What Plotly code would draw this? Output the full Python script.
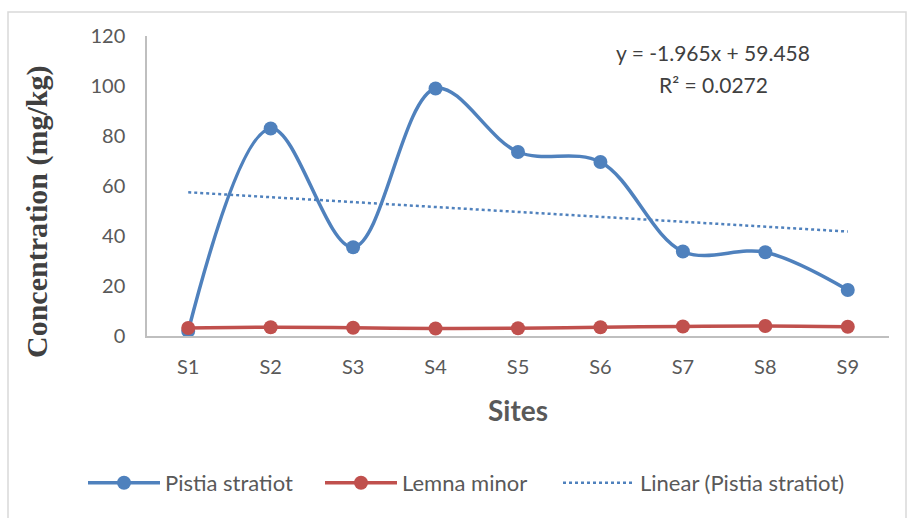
import plotly.graph_objects as go

sites = ["S1", "S2", "S3", "S4", "S5", "S6", "S7", "S8", "S9"]
pistia = [2.0, 83.0, 35.5, 99.0, 73.6, 69.6, 33.8, 33.5, 18.4]
lemna = [3.2, 3.5, 3.3, 3.0, 3.1, 3.5, 3.8, 4.0, 3.7]
trend_slope = -1.965
trend_intercept = 59.458
y_ticks = [0, 20, 40, 60, 80, 100, 120]

trend = [trend_slope * (i + 1) + trend_intercept for i in range(len(sites))]

BLUE = "#4F81BD"
RED = "#C0504D"
TXT = "#595959"
FONT = "Lato, Liberation Sans, sans-serif"

L, R, T, B = 147, 18, 36, 182
W, H = 907, 518
pw, ph = W - L - R, H - T - B
leg_y = -(483 - (T + ph)) / ph

fig = go.Figure()
fig.add_trace(go.Scatter(x=sites, y=pistia, name="Pistia stratiot", mode="lines+markers",
                         line=dict(color=BLUE, width=3.5, shape="spline", smoothing=1.0),
                         marker=dict(color=BLUE, size=14), legend="legend"))
fig.add_trace(go.Scatter(x=sites, y=lemna, name="Lemna minor", mode="lines+markers",
                         line=dict(color=RED, width=3.5, shape="spline"),
                         marker=dict(color=RED, size=14), legend="legend"))
fig.add_trace(go.Scatter(x=sites, y=trend, name="Linear (Pistia stratiot)", mode="lines",
                         line=dict(color=BLUE, width=2.5, dash="dot"), legend="legend2"))

fig.update_layout(
    width=W, height=H,
    margin=dict(l=L, r=R, t=T, b=B),
    paper_bgcolor="white", plot_bgcolor="white",
    font=dict(family=FONT, size=20, color=TXT),
    showlegend=True,
    legend=dict(orientation="h", x=(83 - L) / pw, xanchor="left",
                y=leg_y, yanchor="middle",
                font=dict(size=22, color=TXT), itemwidth=72,
                entrywidth=150, entrywidthmode="pixels",
                bgcolor="rgba(0,0,0,0)"),
    legend2=dict(orientation="h", x=(558 - L) / pw, xanchor="left",
                 y=leg_y, yanchor="middle",
                 font=dict(size=22, color=TXT), itemwidth=72,
                 bgcolor="rgba(0,0,0,0)"),
    xaxis=dict(type="category", range=[-0.5, 8.5], showline=True, linecolor="#BFBFBF",
               linewidth=1.5, showgrid=False, zeroline=False, ticks="",
               ticklabelstandoff=12, tickfont=dict(size=20, color=TXT)),
    yaxis=dict(range=[0, 120], tickvals=y_ticks, showline=True, linecolor="#BFBFBF",
               linewidth=1.5, showgrid=False, zeroline=False, ticks="",
               ticklabelstandoff=16, tickfont=dict(size=20, color=TXT)),
)

# axis titles
fig.add_annotation(text="<b>Concentration (mg/kg)</b>", xref="paper", yref="paper",
                   x=(37 - L) / pw, y=1 - (212 - T) / ph, textangle=-90, showarrow=False,
                   font=dict(family="Liberation Serif, Times New Roman, serif", size=30, color="#404040"),
                   xanchor="center", yanchor="middle")
fig.add_annotation(text="<b>Sites</b>", xref="paper", yref="paper",
                   x=(518 - L) / pw, y=1 - (410 - T) / ph, showarrow=False,
                   font=dict(family=FONT, size=28, color="#595959"),
                   xanchor="center", yanchor="middle")
# equation
fig.add_annotation(text="y = -1.965x + 59.458", xref="paper", yref="paper",
                   x=(713 - L) / pw, y=1 - (53 - T) / ph, showarrow=False,
                   font=dict(family=FONT, size=21, color="#404040"),
                   xanchor="center", yanchor="middle")
fig.add_annotation(text="R² = 0.0272", xref="paper", yref="paper",
                   x=(713 - L) / pw, y=1 - (84 - T) / ph, showarrow=False,
                   font=dict(family=FONT, size=21, color="#404040"),
                   xanchor="center", yanchor="middle")

# chart border
fig.add_shape(type="rect", xref="paper", yref="paper",
              x0=(8 - L) / pw, x1=(906 - L) / pw,
              y0=1 - (530 - T) / ph, y1=1 - (12 - T) / ph,
              line=dict(color="#D9D9D9", width=1.5), layer="below")

fig.write_html("out.html")
